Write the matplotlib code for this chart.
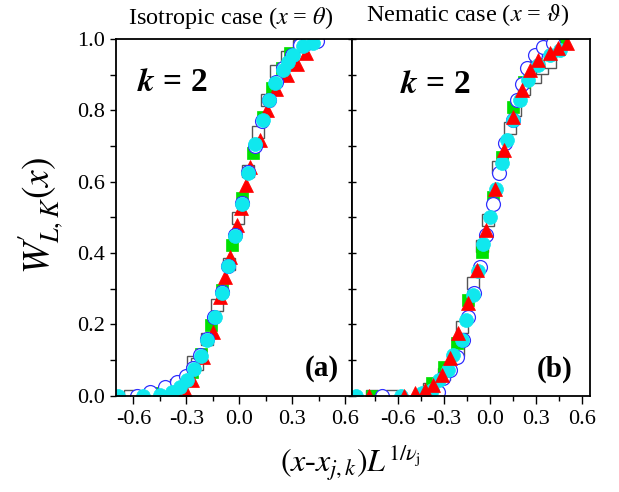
"""Scaling collapse of W'_{L,K}(x) for k = 2, isotropic and nematic cases."""

import matplotlib
import matplotlib.pyplot as plt
from matplotlib.ticker import FixedLocator, MultipleLocator

matplotlib.rcParams["font.family"] = "serif"
matplotlib.rcParams["font.serif"] = ["Liberation Serif", "DejaVu Serif"]
matplotlib.rcParams["mathtext.fontset"] = "stix"

# Panel (a): isotropic case, x = theta
iso_sq_open_x = [-0.62, -0.50, -0.40, -0.36, -0.33, -0.26, -0.24, -0.18, -0.126, -0.06, -0.006,
                 0.05, 0.107, 0.16, 0.21, 0.27, 0.34]
iso_sq_open_y = [0.0, 0.005, 0.015, 0.03, 0.035, 0.094, 0.09, 0.16, 0.254, 0.37, 0.498,
                 0.63, 0.739, 0.83, 0.91, 0.95, 0.98]
iso_sq_green_x = [-0.55, -0.45, -0.40, -0.33, -0.27, -0.216, -0.16, -0.097, -0.04, 0.017,
                  0.08, 0.135, 0.186, 0.24, 0.29]
iso_sq_green_y = [0.0, 0.008, 0.015, 0.035, 0.067, 0.117, 0.198, 0.296, 0.422, 0.554,
                  0.68, 0.78, 0.862, 0.92, 0.96]
iso_tri_x = [-0.505, -0.44, -0.375, -0.307, -0.267, -0.204, -0.148, -0.108, -0.08, -0.05,
             -0.012, 0.01, 0.04, 0.06, 0.118, 0.155, 0.21, 0.27, 0.33, 0.38]
iso_tri_y = [0.005, 0.01, 0.007, 0.016, 0.044, 0.108, 0.18, 0.277, 0.333, 0.389,
             0.478, 0.526, 0.59, 0.64, 0.717, 0.80, 0.86, 0.90, 0.93, 0.96]
iso_circ_open_x = [-0.58, -0.505, -0.42, -0.35, -0.30, -0.26, -0.22, -0.18, -0.14, -0.10,
                   -0.062, -0.023, 0.015, 0.05, 0.09, 0.13, 0.17, 0.21, 0.25, 0.30, 0.345,
                   0.385, 0.44]
iso_circ_open_y = [0.0, 0.01, 0.025, 0.038, 0.055, 0.077, 0.115, 0.16, 0.22, 0.29,
                   0.365, 0.45, 0.54, 0.626, 0.70, 0.77, 0.83, 0.88, 0.92, 0.955, 0.983,
                   0.99, 0.995]
iso_circ_cyan_x = [-0.687, -0.545, -0.45, -0.38, -0.335, -0.296, -0.255, -0.216, -0.18,
                   -0.137, -0.097, -0.063, -0.023, 0.016, 0.05, 0.09, 0.135, 0.17, 0.203,
                   0.248, 0.277, 0.305, 0.36, 0.42]
iso_circ_cyan_y = [0.0, 0.0, 0.003, 0.01, 0.025, 0.045, 0.075, 0.11, 0.156,
                   0.22, 0.287, 0.363, 0.447, 0.537, 0.624, 0.705, 0.773, 0.83, 0.876,
                   0.913, 0.935, 0.955, 0.98, 0.99]

# Panel (b): nematic case, x = vartheta
nem_sq_open_x = [-0.77, -0.64, -0.40, -0.30, -0.21, -0.18, -0.11, -0.05, -0.012, 0.05,
                 0.128, 0.16, 0.22, 0.29, 0.336, 0.39, 0.45]
nem_sq_open_y = [0.0, 0.0, 0.02, 0.06, 0.128, 0.193, 0.315, 0.42, 0.492, 0.64,
                 0.75, 0.80, 0.86, 0.893, 0.918, 0.935, 0.98]
nem_sq_green_x = [-0.77, -0.38, -0.30, -0.218, -0.145, -0.054, 0.017, 0.08, 0.148, 0.22,
                  0.30, 0.455]
nem_sq_green_y = [0.0, 0.036, 0.08, 0.148, 0.268, 0.403, 0.557, 0.67, 0.81, 0.88,
                  0.93, 0.99]
nem_circ_open_x = [-0.70, -0.34, -0.308, -0.263, -0.218, -0.178, -0.145, -0.107, -0.067,
                   -0.028, 0.017, 0.057, 0.10, 0.148, 0.174, 0.205, 0.24, 0.29, 0.345, 0.41]
nem_circ_open_y = [0.0, 0.01, 0.05, 0.072, 0.108, 0.156, 0.22, 0.287, 0.36,
                   0.45, 0.537, 0.624, 0.708, 0.773, 0.83, 0.875, 0.918, 0.955, 0.978, 0.99]
nem_circ_cyan_x = [-0.87, -0.577, -0.44, -0.375, -0.33, -0.275, -0.243, -0.185, -0.158,
                   -0.113, -0.08, -0.045, 0.0, 0.04, 0.076, 0.109, 0.148, 0.193, 0.245,
                   0.31, 0.39, 0.455]
nem_circ_cyan_y = [0.0, 0.0, 0.007, 0.016, 0.044, 0.072, 0.114, 0.156, 0.212,
                   0.282, 0.35, 0.425, 0.50, 0.58, 0.652, 0.717, 0.773, 0.83, 0.885,
                   0.927, 0.955, 0.97]
nem_tri_x = [-0.785, -0.556, -0.49, -0.425, -0.373, -0.315, -0.262, -0.21, -0.145, -0.087,
             -0.028, 0.03, 0.09, 0.148, 0.207, 0.26, 0.31, 0.39, 0.443, 0.50]
nem_tri_y = [0.0, 0.0, 0.007, 0.016, 0.03, 0.058, 0.105, 0.175, 0.26, 0.352,
             0.464, 0.58, 0.688, 0.78, 0.857, 0.913, 0.94, 0.96, 0.975, 0.99]

x_major = [-0.6, -0.3, 0.0, 0.3, 0.6]
x_minor = [-0.75, -0.45, -0.15, 0.15, 0.45]
x_labels = ["-0.6", "-0.3", "0.0", "0.3", "0.6"]

STYLES = {
    "sq_open": dict(marker="s", ms=8, mfc="white", mec="#555555", mew=1.0),
    "sq_green": dict(marker="s", ms=8, mfc="#00e000", mec="#00e000", mew=0.5),
    "tri": dict(marker="^", ms=10, mfc="#ff0000", mec="#ff0000", mew=0.5),
    "circ_open": dict(marker="o", ms=10, mfc="white", mec="#3030ff", mew=0.9),
    "circ_cyan": dict(marker="o", ms=10, mfc="#10e8ee", mec="#10e8ee", mew=0.5),
}


def style_axes(ax, xlim):
    ax.set_xlim(*xlim)
    ax.set_ylim(0.0, 1.0)
    ax.xaxis.set_major_locator(FixedLocator(x_major))
    ax.xaxis.set_minor_locator(FixedLocator(x_minor))
    ax.set_xticklabels(x_labels)
    ax.yaxis.set_major_locator(MultipleLocator(0.2))
    ax.yaxis.set_minor_locator(MultipleLocator(0.1))
    ax.tick_params(axis="x", which="major", direction="out", length=6, width=1.0, labelsize=16, pad=4)
    ax.tick_params(axis="x", which="minor", direction="out", length=3.5, width=1.0)
    for side in ax.spines.values():
        side.set_linewidth(1.3)


fig = plt.figure(figsize=(6.19, 4.92), dpi=100)
ax_a = fig.add_axes([0.1869, 0.1957, 0.381, 0.725])
ax_b = fig.add_axes([0.5679, 0.1957, 0.3845, 0.725])

for xs, ys, key in [
    (iso_sq_open_x, iso_sq_open_y, "sq_open"),
    (iso_sq_green_x, iso_sq_green_y, "sq_green"),
    (iso_tri_x, iso_tri_y, "tri"),
    (iso_circ_open_x, iso_circ_open_y, "circ_open"),
    (iso_circ_cyan_x, iso_circ_cyan_y, "circ_cyan"),
]:
    ax_a.plot(xs, ys, ls="none", **STYLES[key])

for xs, ys, key in [
    (nem_sq_open_x, nem_sq_open_y, "sq_open"),
    (nem_sq_green_x, nem_sq_green_y, "sq_green"),
    (nem_circ_open_x, nem_circ_open_y, "circ_open"),
    (nem_circ_cyan_x, nem_circ_cyan_y, "circ_cyan"),
    (nem_tri_x, nem_tri_y, "tri"),
]:
    ax_b.plot(xs, ys, ls="none", **STYLES[key])

style_axes(ax_a, (-0.70, 0.637))
style_axes(ax_b, (-0.90, 0.646))

ax_a.yaxis.set_major_formatter(matplotlib.ticker.FormatStrFormatter("%.1f"))
ax_a.tick_params(axis="y", which="major", direction="out", length=4, width=1.0, labelsize=16)
ax_a.tick_params(axis="y", which="minor", direction="out", length=4, width=1.0)
ax_b.tick_params(axis="y", which="both", direction="inout", length=6, width=1.0, labelleft=False)

# "k = 2" and panel tags
ax_a.text(0.09, 0.877, r"$\boldsymbol{k}$ = 2", transform=ax_a.transAxes, fontsize=24,
          fontweight="bold", ha="left", va="center")
ax_b.text(0.204, 0.872, r"$\boldsymbol{k}$ = 2", transform=ax_b.transAxes, fontsize=24,
          fontweight="bold", ha="left", va="center")
ax_a.text(0.945, 0.075, "(a)", transform=ax_a.transAxes, fontsize=21, fontweight="bold",
          ha="right", va="center")
ax_b.text(0.93, 0.075, "(b)", transform=ax_b.transAxes, fontsize=21, fontweight="bold",
          ha="right", va="center")

fig.text(231 / 619, 1 - 18 / 492, r"Isotropic case ($x$ = $\theta$)", fontsize=17.5,
         ha="center", va="center")
fig.text(468 / 619, 1 - 15 / 492, r"Nematic case ($x$ = $\vartheta$)", fontsize=17.5,
         ha="center", va="center")
fig.text(40 / 619, 1 - 215 / 492, r"$W^{\!\prime}_{L,K}(x)$", fontsize=27, rotation=90,
         ha="center", va="center")
fig.text(350 / 619, 1 - 463 / 492, r"$(x$-$x_{j,k})L^{1/\nu_{\rm j}}$", fontsize=23,
         ha="center", va="center")

fig.savefig("out.png", dpi=100, facecolor="white")
